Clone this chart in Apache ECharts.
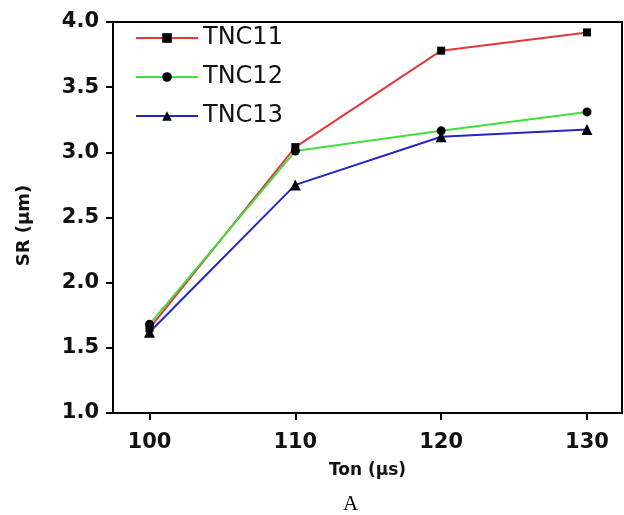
<!DOCTYPE html>
<html>
<head>
<meta charset="utf-8">
<script src="https://cdn.jsdelivr.net/npm/echarts@6/dist/echarts.min.js"></script>
<style>
  html, body { margin: 0; padding: 0; background: #fff; }
  #chart { width: 624px; height: 515px; }
</style>
</head>
<body>
<div id="chart"></div>
<script>
// data
const tonValues = [100, 110, 120, 130];
const tnc11 = [1.65, 3.04, 3.78, 3.92];
const tnc12 = [1.68, 3.01, 3.165, 3.31];
const tnc13 = [1.62, 2.75, 3.12, 3.175];
const yTicks = [1.0, 1.5, 2.0, 2.5, 3.0, 3.5, 4.0];

const pairs = (ys) => tonValues.map((x, i) => [x, ys[i]]);

const myChart = echarts.init(document.getElementById('chart'));

const seriesDef = (name, data, color, symbol, size) => ({
  name: name,
  type: 'line',
  data: pairs(data),
  symbol: symbol,
  symbolSize: size,
  showSymbol: true,
  lineStyle: { color: color, width: 2 },
  itemStyle: { color: '#000' },
  animation: false,
});

const boldFont = { fontFamily: 'DejaVu Sans', fontWeight: 'bold', color: '#111' };

const option = {
  animation: false,
  grid: {
    left: 113, right: 2, top: 22, bottom: 102,
    show: true, borderColor: '#000', borderWidth: 2,
  },
  legend: {
    orient: 'vertical',
    left: 130, top: 21,
    itemWidth: 62, itemHeight: 12, itemGap: 15,
    textStyle: { fontFamily: 'DejaVu Sans', fontSize: 24, color: '#111' },
    data: ['TNC11', 'TNC12', 'TNC13'],
  },
  xAxis: {
    type: 'value',
    min: 97.5, max: 132.4,
    name: 'Ton (μs)',
    nameLocation: 'middle',
    nameGap: 49,
    nameTextStyle: Object.assign({ fontSize: 17 }, boldFont),
    splitLine: { show: false },
    axisLine: { lineStyle: { color: '#000', width: 2 } },
    axisTick: { show: true, inside: false, length: 7, lineStyle: { width: 2 }, customValues: tonValues },
    axisLabel: Object.assign({ customValues: tonValues, margin: 19, fontSize: 21 }, boldFont),
  },
  yAxis: {
    type: 'value',
    min: yTicks[0], max: yTicks[yTicks.length - 1], interval: 0.5,
    name: 'SR (μm)',
    nameLocation: 'middle',
    nameGap: 80,
    nameTextStyle: Object.assign({ fontSize: 18, padding: [0, 16, 0, 0] }, boldFont),
    splitLine: { show: false },
    axisLine: { lineStyle: { color: '#000', width: 2 } },
    axisTick: { show: true, inside: false, length: 7, lineStyle: { width: 2 } },
    axisLabel: Object.assign({ margin: 14, formatter: (v) => v.toFixed(1), fontSize: 21 }, boldFont),
  },
  graphic: [{
    type: 'text', left: 343, top: 494,
    style: { text: 'A', font: '21px "Liberation Serif", "Times New Roman", serif', fill: '#000' },
  }],
  series: [
    seriesDef('TNC11', tnc11, '#e2383b', 'rect', 8),
    seriesDef('TNC12', tnc12, '#3fdf3f', 'circle', 9),
    seriesDef('TNC13', tnc13, '#2424c4', 'triangle', 11),
  ],
};

myChart.setOption(option);
</script>
</body>
</html>
